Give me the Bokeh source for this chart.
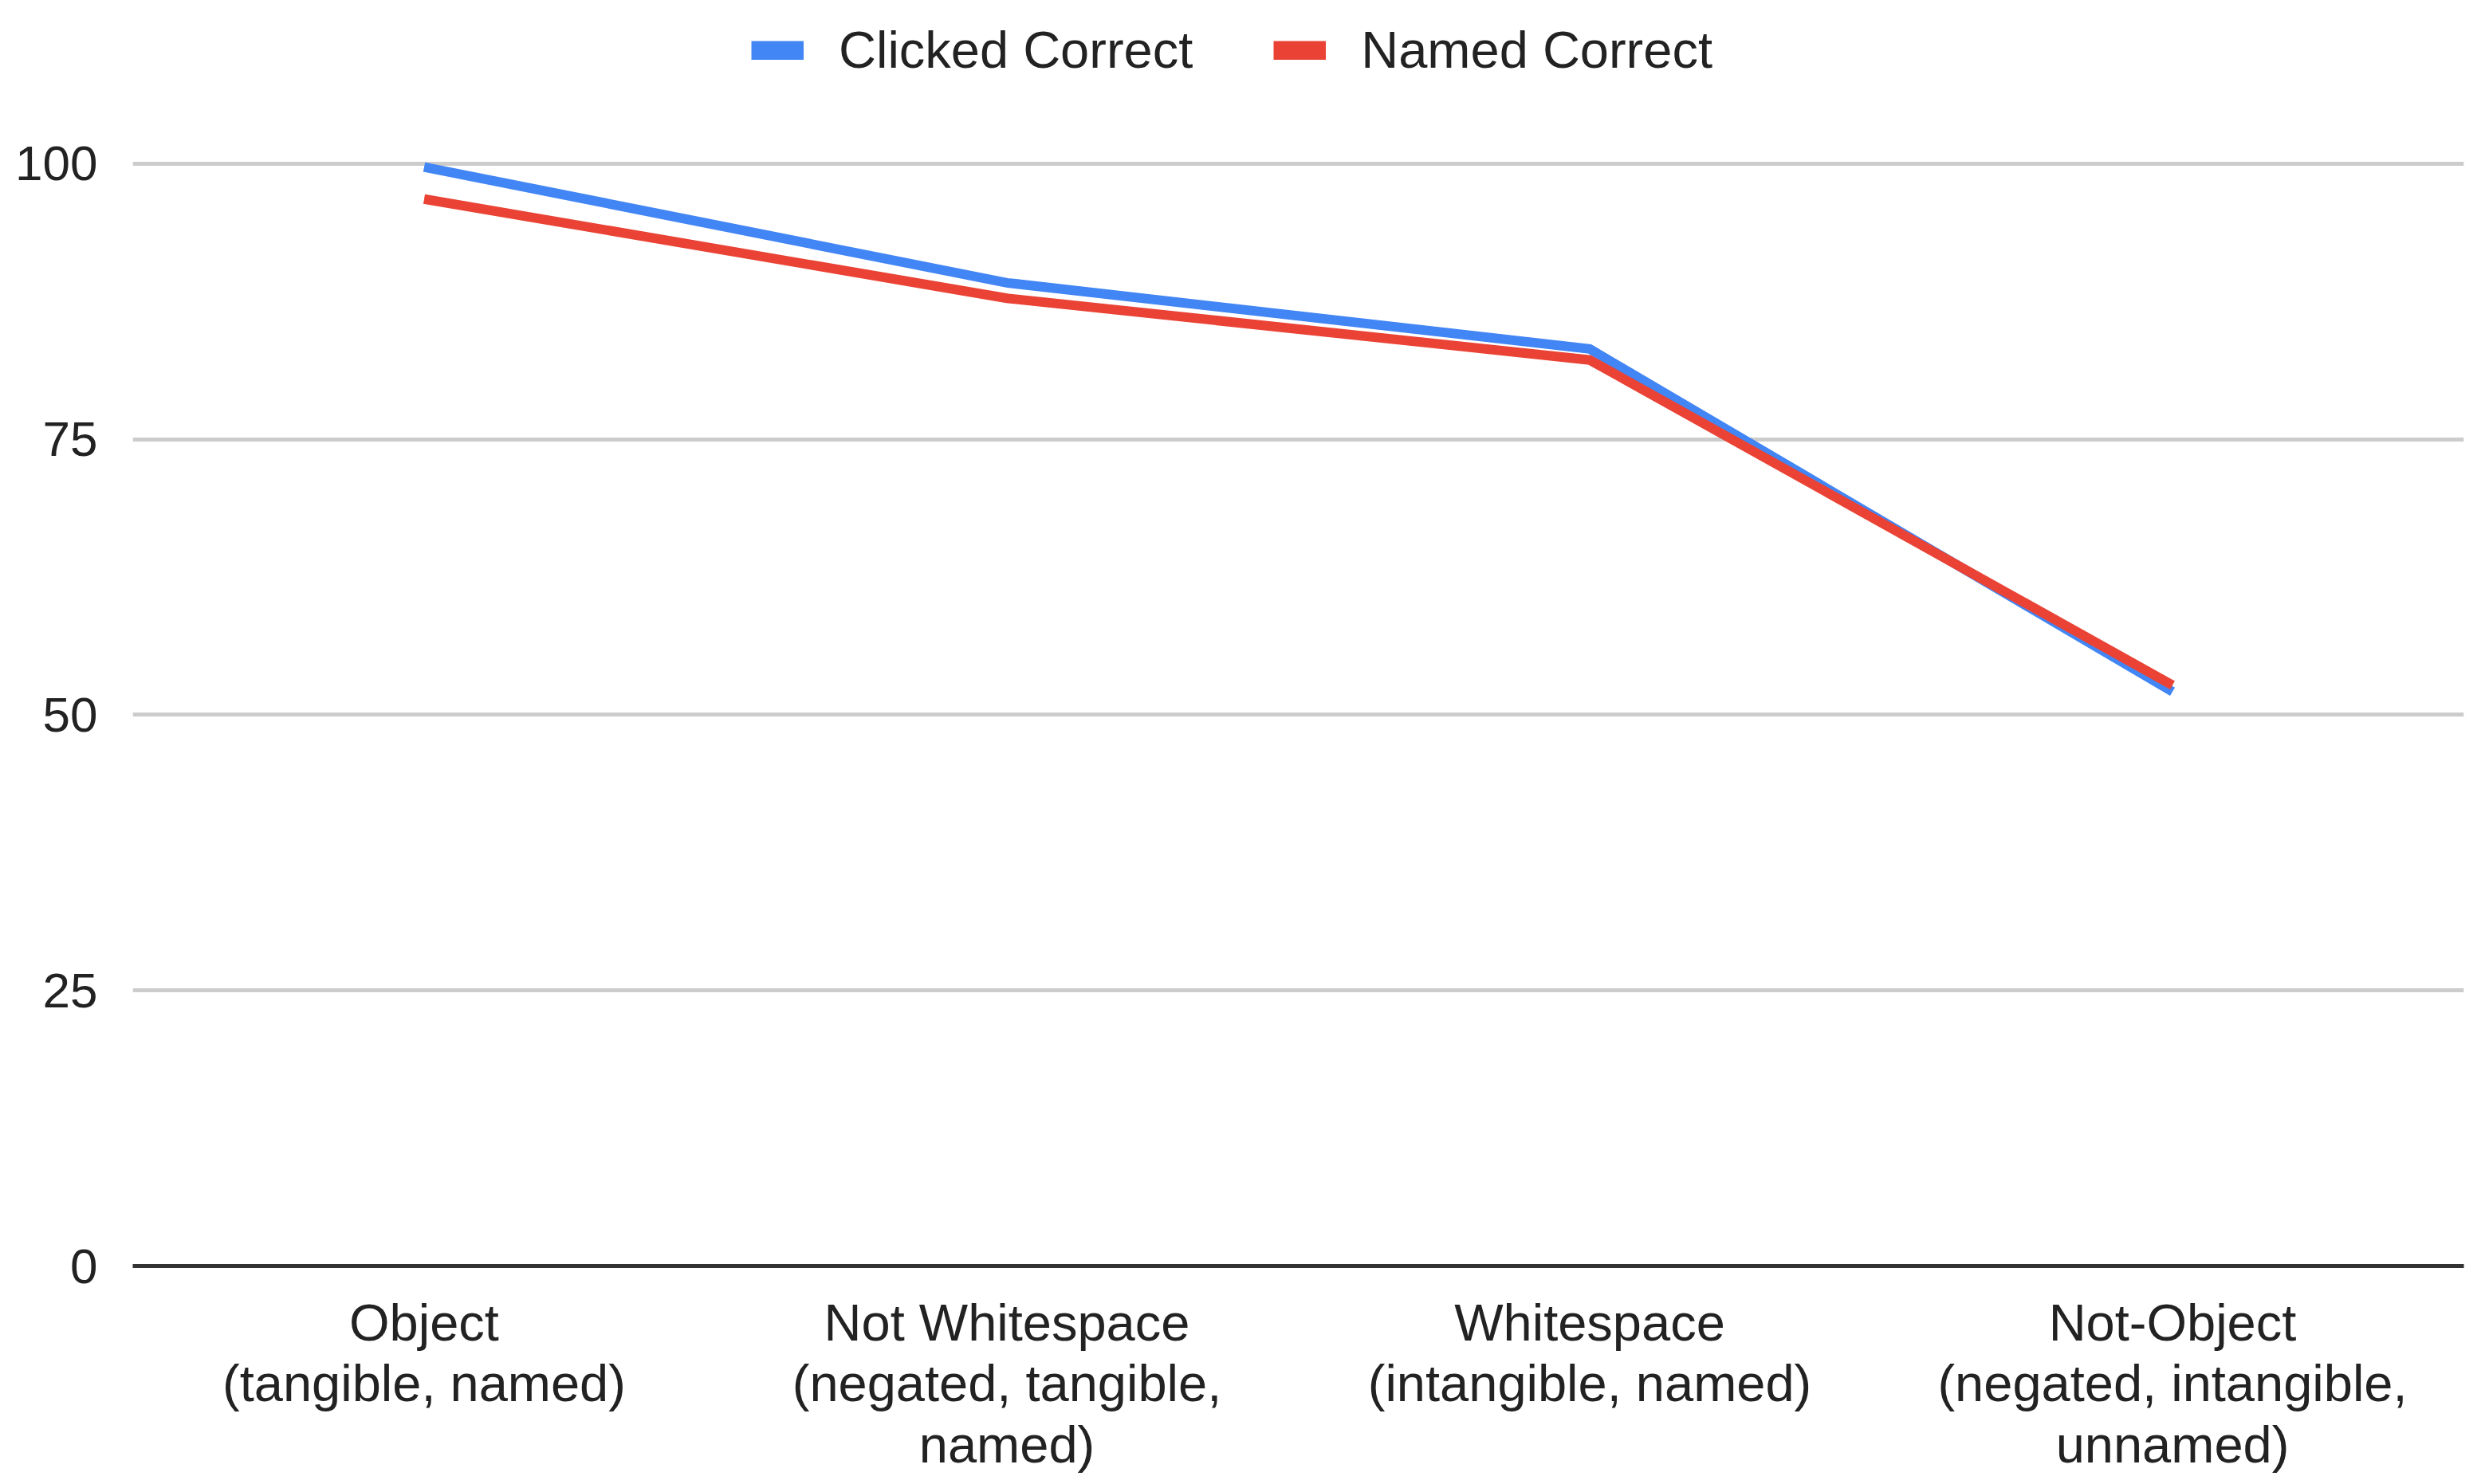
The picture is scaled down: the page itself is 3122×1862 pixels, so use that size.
from bokeh.plotting import figure
from bokeh.models import Range1d, FactorRange, Legend, LegendItem, FixedTicker
from bokeh.embed import file_html
from bokeh.resources import INLINE

categories = [
    "Object\n(tangible, named)",
    "Not Whitespace\n(negated, tangible,\nnamed)",
    "Whitespace\n(intangible, named)",
    "Not-Object\n(negated, intangible,\nunnamed)",
]
clicked_correct = [99.7, 89.2, 83.2, 52.1]
named_correct = [96.8, 87.8, 82.2, 52.7]
y_ticks = [0, 25, 50, 75, 100]
series_names = ["Clicked Correct", "Named Correct"]

BLUE = "#4285F4"
RED = "#EA4335"
FONT = "Liberation Sans"

p = figure(
    x_range=FactorRange(factors=categories),
    y_range=Range1d(0, 114.46),
    frame_width=2924,
    frame_height=1583,
    min_border_left=166,
    min_border_right=30,
    min_border_top=5,
    min_border_bottom=200,
    output_backend="svg",
    toolbar_location=None,
)
p.outline_line_color = None
p.background_fill_color = "white"

# data lines
p.line(x=categories, y=clicked_correct, line_color=BLUE, line_width=12, line_join="miter")
p.line(x=categories, y=named_correct, line_color=RED, line_width=12, line_join="miter")

# legend swatches (invisible single-point renderers)
nan = float("nan")
sw_b = p.line(x=[categories[0]], y=[nan], line_color=BLUE, line_width=24, line_cap="butt")
sw_r = p.line(x=[categories[0]], y=[nan], line_color=RED, line_width=24, line_cap="butt")
legend = Legend(
    items=[LegendItem(label=series_names[0], renderers=[sw_b]),
           LegendItem(label=series_names[1], renderers=[sw_r])],
    location=(776, 1488),
    orientation="horizontal",
    glyph_width=66, glyph_height=24,
    label_standoff=44, spacing=101,
    padding=0, margin=0,
    border_line_color=None, background_fill_alpha=0,
    label_text_font=FONT, label_text_font_size="65px", label_text_color="#222222",
)
p.add_layout(legend)

# axes
p.xaxis.axis_line_color = "#333333"
p.xaxis.axis_line_width = 5
p.xaxis.major_tick_line_color = None
p.xaxis.minor_tick_line_color = None
p.xaxis.major_label_text_font = FONT
p.xaxis.major_label_text_font_size = "65px"
p.xaxis.major_label_text_color = "#222222"
p.xaxis.major_label_text_line_height = 1.05
p.xaxis.major_label_standoff = 28

p.yaxis.ticker = FixedTicker(ticks=y_ticks)
p.yaxis.axis_line_color = None
p.yaxis.major_tick_line_color = None
p.yaxis.minor_tick_line_color = None
p.yaxis.major_label_text_font = FONT
p.yaxis.major_label_text_font_size = "62px"
p.yaxis.major_label_text_color = "#222222"
p.yaxis.major_label_standoff = 38

p.xgrid.grid_line_color = None
p.ygrid.grid_line_color = "#cccccc"
p.ygrid.grid_line_width = 5

open("out.html", "w").write(file_html(p, INLINE))
